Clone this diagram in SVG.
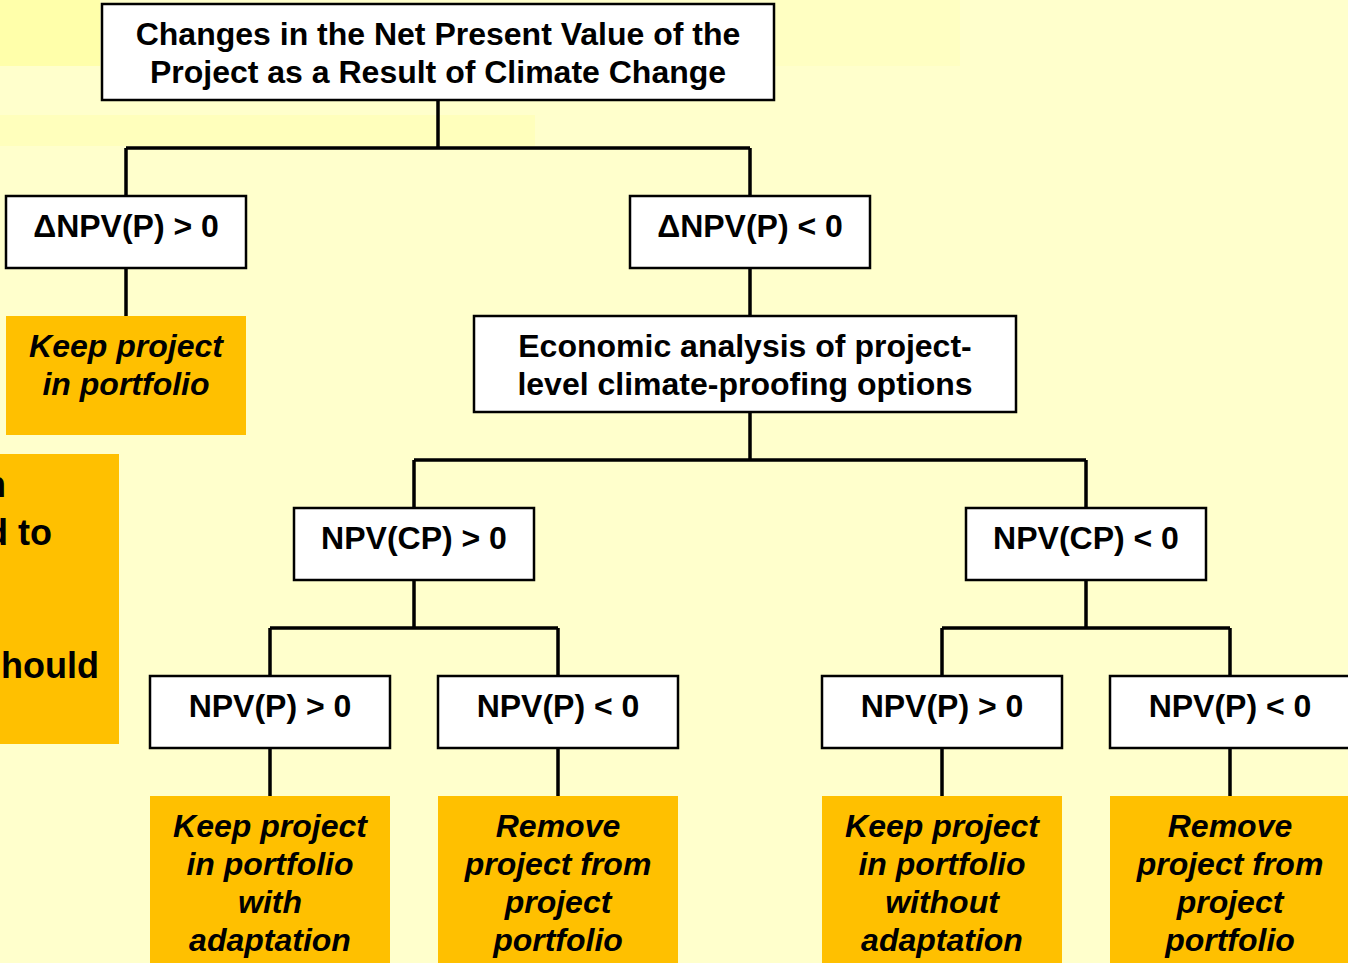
<svg xmlns="http://www.w3.org/2000/svg" width="1348" height="963" viewBox="0 0 1348 963">
<style>
.box{fill:#fff;stroke:#000;stroke-width:2.5}
.sh{fill:none;stroke:#9a9a8a;stroke-width:2}
.out{fill:#FFC000}
.t{font-family:"Liberation Sans",Arial,sans-serif;font-weight:bold;font-size:32px;fill:#000;text-anchor:middle}
.i{font-style:italic}
.c{fill:none;stroke:#000;stroke-width:3.5}
</style>
<rect width="1348" height="963" fill="#FFFFCC"/>
<rect x="0" y="0" width="100" height="66" fill="#FFFFAA"/>
<rect x="0" y="115" width="535" height="31" fill="#FFFFBC"/>
<rect x="775" y="0" width="185" height="66" fill="#FFFFC2"/>

<g id="connectors">
<path class="c" d="M438 100V148M126 148H750M126 148V196M750 148V196"/>
<path class="c" d="M126 268V316"/>
<path class="c" d="M750 268V316"/>
<path class="c" d="M750 412V460M414 460H1086M414 460V508M1086 460V508"/>
<path class="c" d="M414 580V628M270 628H558M270 628V676M558 628V676"/>
<path class="c" d="M1086 580V628M942 628H1230M942 628V676M1230 628V676"/>
<path class="c" d="M270 748V796M558 748V796M942 748V796M1230 748V796"/>
</g>

<g id="side-note">
<rect class="out" x="0" y="454" width="119" height="290"/>
<text class="t" style="font-size:36px;text-anchor:end" x="6" y="497">n</text>
<text class="t" style="font-size:36px;text-anchor:end" x="52" y="545">d to</text>
<text class="t" style="font-size:36px;text-anchor:end" x="99" y="678">hould</text>
</g>

<g id="root">
<rect class="box" x="102" y="4" width="672" height="96"/>
<text class="t" x="438" y="45">Changes in the Net Present Value of the</text>
<text class="t" x="438" y="83">Project as a Result of Climate Change</text>
</g>

<g id="dnpv-pos">
<rect class="box" x="6" y="196" width="240" height="72"/>
<text class="t" x="126" y="237">ΔNPV(P) &gt; 0</text>
</g>
<g id="keep-1">
<rect class="out" x="6" y="316" width="240" height="119"/>
<text class="t i" x="126" y="357">Keep project</text>
<text class="t i" x="126" y="395">in portfolio</text>
</g>

<g id="dnpv-neg">
<rect class="box" x="630" y="196" width="240" height="72"/>
<text class="t" x="750" y="237">ΔNPV(P) &lt; 0</text>
</g>
<g id="econ">
<rect class="box" x="474" y="316" width="542" height="96"/>
<text class="t" x="745" y="357">Economic analysis of project-</text>
<text class="t" x="745" y="395">level climate-proofing options</text>
</g>

<g id="npvcp-pos">
<rect class="box" x="294" y="508" width="240" height="72"/>
<text class="t" x="414" y="549">NPV(CP) &gt; 0</text>
</g>
<g id="npvcp-neg">
<rect class="box" x="966" y="508" width="240" height="72"/>
<text class="t" x="1086" y="549">NPV(CP) &lt; 0</text>
</g>

<g id="npvp-1">
<rect class="box" x="150" y="676" width="240" height="72"/>
<text class="t" x="270" y="717">NPV(P) &gt; 0</text>
</g>
<g id="npvp-2">
<rect class="box" x="438" y="676" width="240" height="72"/>
<text class="t" x="558" y="717">NPV(P) &lt; 0</text>
</g>
<g id="npvp-3">
<rect class="box" x="822" y="676" width="240" height="72"/>
<text class="t" x="942" y="717">NPV(P) &gt; 0</text>
</g>
<g id="npvp-4">
<rect class="box" x="1110" y="676" width="240" height="72"/>
<text class="t" x="1230" y="717">NPV(P) &lt; 0</text>
</g>

<g id="out-1">
<rect class="out" x="150" y="796" width="240" height="170"/>
<text class="t i" x="270" y="837">Keep project</text>
<text class="t i" x="270" y="875">in portfolio</text>
<text class="t i" x="270" y="913">with</text>
<text class="t i" x="270" y="951">adaptation</text>
</g>
<g id="out-2">
<rect class="out" x="438" y="796" width="240" height="170"/>
<text class="t i" x="558" y="837">Remove</text>
<text class="t i" x="558" y="875">project from</text>
<text class="t i" x="558" y="913">project</text>
<text class="t i" x="558" y="951">portfolio</text>
</g>
<g id="out-3">
<rect class="out" x="822" y="796" width="240" height="170"/>
<text class="t i" x="942" y="837">Keep project</text>
<text class="t i" x="942" y="875">in portfolio</text>
<text class="t i" x="942" y="913">without</text>
<text class="t i" x="942" y="951">adaptation</text>
</g>
<g id="out-4">
<rect class="out" x="1110" y="796" width="240" height="170"/>
<text class="t i" x="1230" y="837">Remove</text>
<text class="t i" x="1230" y="875">project from</text>
<text class="t i" x="1230" y="913">project</text>
<text class="t i" x="1230" y="951">portfolio</text>
</g>
</svg>
